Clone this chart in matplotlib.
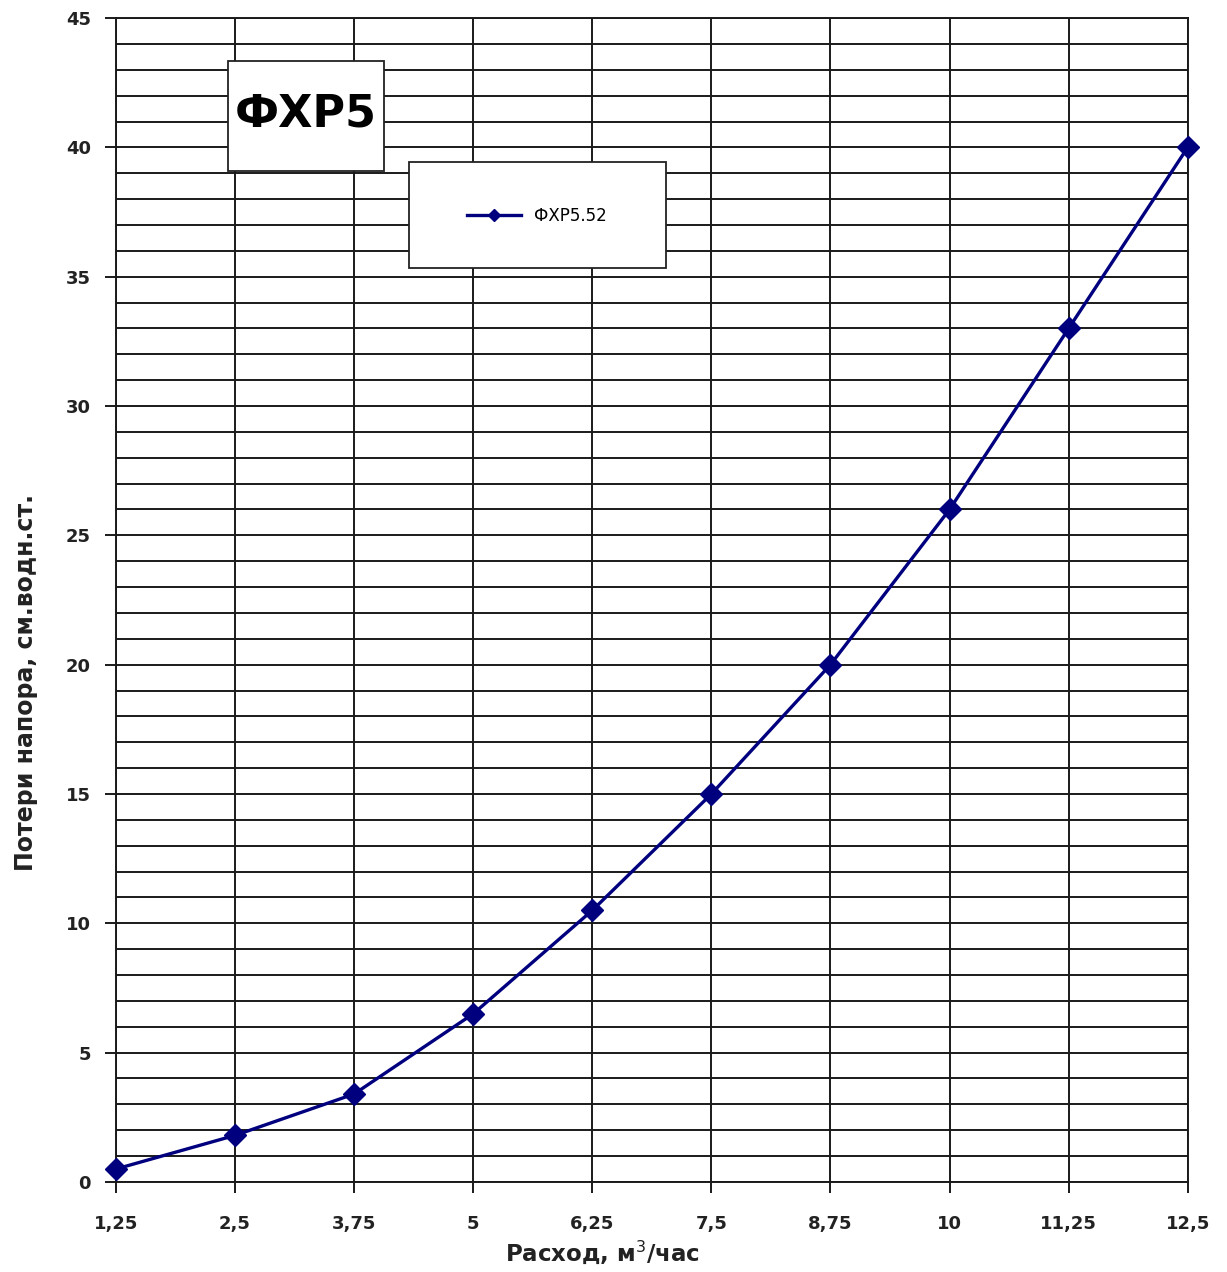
import matplotlib.pyplot as plt
from matplotlib.patches import Rectangle
from matplotlib.ticker import MultipleLocator

## Data
flow_labels = ['1,25', '2,5', '3,75', '5', '6,25', '7,5', '8,75', '10', '11,25', '12,5']
head_loss = [0.5, 1.8, 3.4, 6.5, 10.5, 15, 20, 26, 33, 40]
series_name = 'ФХР5.52'
title_text = 'ФХР5'

plt.rcParams['font.family'] = ['DejaVu Sans']

fig = plt.figure(figsize=(12.27, 12.72), dpi=100)
ax = fig.add_axes([0.0945, 0.0708, 0.8735, 0.915])

x = list(range(len(flow_labels)))
ax.plot(x, head_loss, color='#00007f', linewidth=2.4, marker='D',
        markersize=11, label=series_name, zorder=5, clip_on=False)

ax.set_xlim(0, len(flow_labels) - 1)
ax.set_ylim(0, 45)
ax.set_xticks(x)
ax.set_xticklabels(flow_labels)
ax.yaxis.set_major_locator(MultipleLocator(5))
ax.yaxis.set_minor_locator(MultipleLocator(1))

ax.grid(True, which='both', axis='y', color='#1a1a1a', linewidth=1.4)
ax.grid(True, which='major', axis='x', color='#1a1a1a', linewidth=1.4)
ax.set_axisbelow(True)
for s in ax.spines.values():
    s.set_color('#1a1a1a')
    s.set_linewidth(1.4)

ax.tick_params(axis='x', which='major', length=8, width=1.4, color='#1a1a1a',
               labelsize=13, pad=16)
ax.tick_params(axis='y', which='major', length=8, width=1.4, color='#1a1a1a',
               labelsize=13, pad=10)
ax.tick_params(axis='y', which='minor', length=0)
for lab in ax.get_xticklabels() + ax.get_yticklabels():
    lab.set_fontweight('bold')
    lab.set_color('#222222')

ax.set_xlabel('Расход, м$^3$/час', fontsize=16.5, fontweight='bold', color='#222222')
ax.set_ylabel('Потери напора, см.водн.ст.', fontsize=17, fontweight='bold', color='#222222')
ax.xaxis.set_label_coords(0.454, -0.049)
ax.yaxis.set_label_coords(-0.073, 0.429)

## Title box
ax.add_patch(Rectangle((0.1045, 0.869), 0.1455, 0.0945, transform=ax.transAxes,
                       facecolor='white', edgecolor='#222222', linewidth=1.3, zorder=6))
ax.text(0.177, 0.918, title_text, transform=ax.transAxes, ha='center', va='center',
        fontsize=32, fontweight='bold', zorder=7)

## Legend box
ax.add_patch(Rectangle((0.2735, 0.785), 0.2398, 0.091, transform=ax.transAxes,
                       facecolor='white', edgecolor='#222222', linewidth=1.3, zorder=6))
leg = ax.legend(loc='center', bbox_to_anchor=(0.393, 0.83), frameon=False,
                fontsize=12, handlelength=3.2, markerscale=0.6)
leg.set_zorder(8)

plt.savefig('out.png')
